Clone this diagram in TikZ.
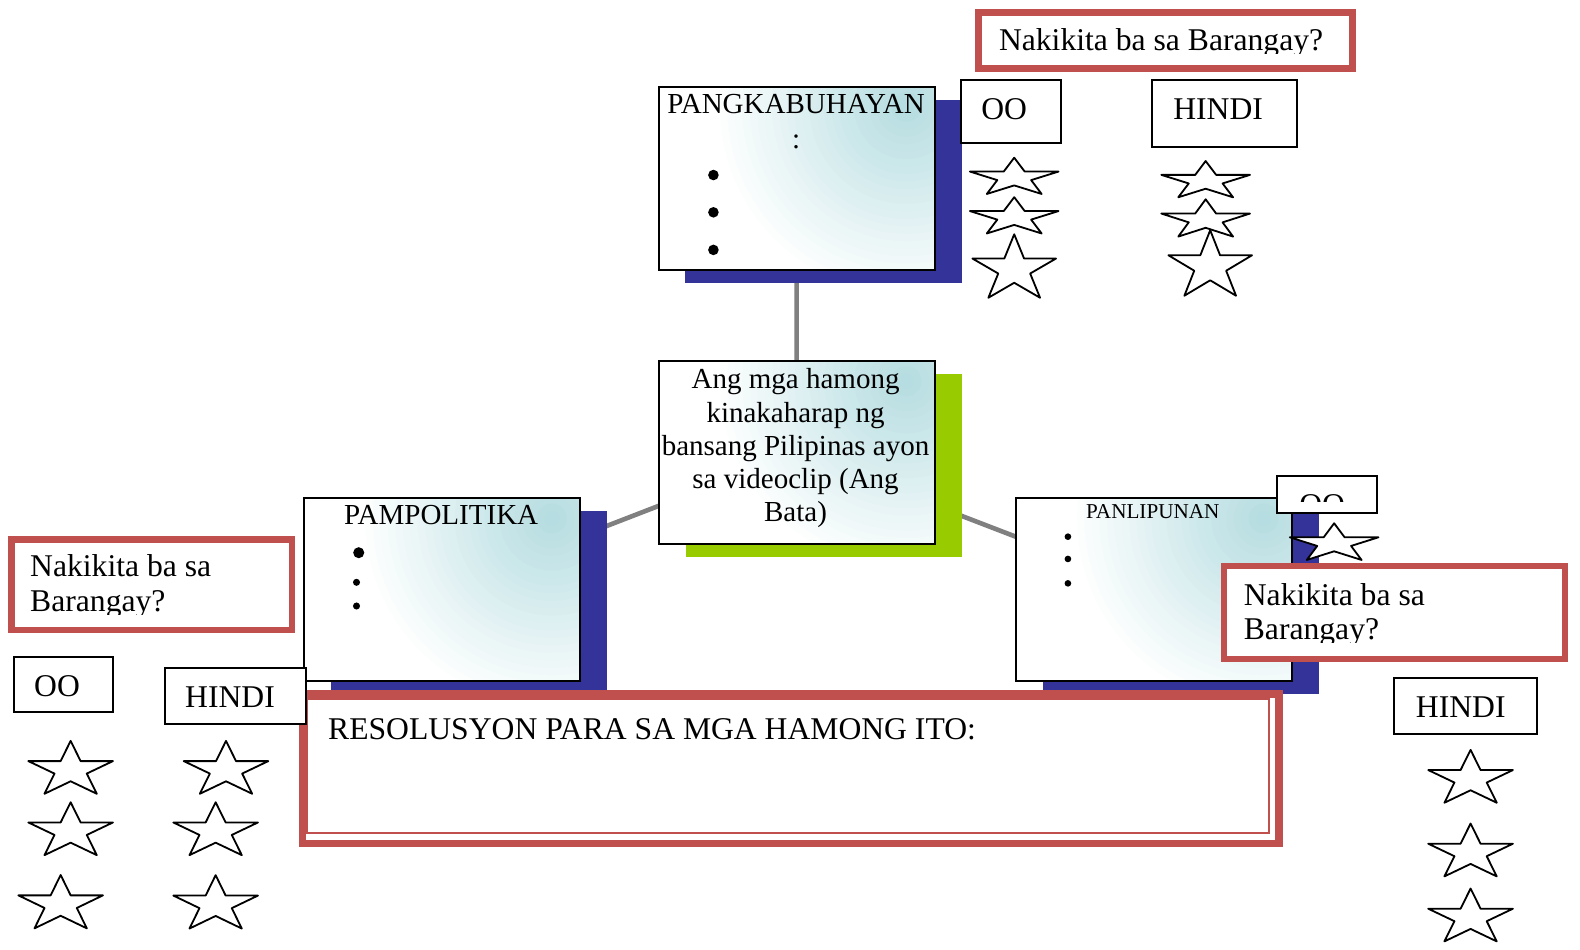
\documentclass[tikz,border=0pt]{standalone}
\usepackage{fontspec}
\setmainfont{Liberation Serif}
\usetikzlibrary{backgrounds}
\definecolor{redc}{RGB}{192,80,77}
\definecolor{bluec}{RGB}{51,51,153}
\definecolor{greenc}{RGB}{153,204,0}
\definecolor{grayc}{RGB}{128,128,128}
\definecolor{tealc}{RGB}{182,221,225}
\newcommand\ostar[4]{%
  \begin{scope}[shift={(#1,#2)},xscale=#3/1.902,yscale=-#4/1.809]
    \draw[starline] (0,0.9045) -- (0.2245,0.2135) -- (0.951,0.2135) -- (0.363,-0.2135)
      -- (0.588,-0.9045) -- (0,-0.4775) -- (-0.588,-0.9045) -- (-0.363,-0.2135)
      -- (-0.951,0.2135) -- (-0.2245,0.2135) -- cycle;
  \end{scope}}
\begin{document}
\begin{tikzpicture}[x=0.5pt,y=-0.5pt,
  plainbox/.style={draw=black,line width=1pt,fill=white,inner sep=0,anchor=north west},
  redbox/.style={draw=redc,line width=3.25pt,fill=white,inner sep=0,anchor=north west},
  shadowbox/.style={inner sep=0,anchor=north west,minimum width=137pt,minimum height=90.75pt},
  contentbox/.style={draw=black,line width=1pt,fill=white,inner sep=0,anchor=north west,
    minimum width=137pt,minimum height=90.75pt,
    path picture={\foreach \i in {1,...,25}{\pgfmathtruncatemacro\pct{4*\i}%
      \fill[tealc!\pct!white] ([xshift=-14pt,yshift=-10pt]path picture bounding box.north east)
        circle ({(26-\i)*3.7pt});}}},
  starline/.style={draw=black,fill=white,line width=0.9pt,line join=round},
  conn/.style={draw=grayc,line width=2.3pt},
  bigtxt/.style={font=\fontsize{15.7pt}{17.5pt}\selectfont,inner sep=0},
  midtxt/.style={font=\fontsize{14.4pt}{16pt}\selectfont,inner sep=0},
  smalltxt/.style={font=\fontsize{10.5pt}{12pt}\selectfont,inner sep=0},
  dot/.style={circle,fill=black,inner sep=0}]
\useasboundingbox (0,0) rectangle (1568,942);

% ---------- top: PANGKABUHAYAN ----------
\node[shadowbox,fill=bluec] (pksh) at (679.8,98.5) {};
\node[contentbox] (pk) at (652.5,85) {};
\node[midtxt,anchor=base] (pkt) at (790,113) {PANGKABUHAYAN};
\node[midtxt,anchor=base] (pkc) at (790,147) {:};
\node[dot,minimum size=5.25pt] (pkb1) at (708,173.7) {};
\node[dot,minimum size=5.25pt] (pkb2) at (708,210.7) {};
\node[dot,minimum size=5.25pt] (pkb3) at (708,248) {};

% ---------- centre ----------
\node[shadowbox,fill=greenc] (ctrsh) at (679.9,370.8) {};
\node[contentbox] (ctr) at (652.6,357.3) {};
\node[midtxt,anchor=base] (c1) at (789.5,386) {Ang mga hamong};
\node[midtxt,anchor=base] (c2) at (789.5,419) {kinakaharap ng};
\node[midtxt,anchor=base] (c3) at (789.5,452) {bansang Pilipinas ayon};
\node[midtxt,anchor=base] (c4) at (789.5,485) {sa videoclip (Ang};
\node[midtxt,anchor=base] (c5) at (789.5,518) {Bata)};

% ---------- left: PAMPOLITIKA ----------
\node[shadowbox,fill=bluec] (polsh) at (327.9,507) {};
\node[contentbox] (pol) at (300.6,493.5) {};
\node[midtxt,anchor=base] (polt) at (437.8,521) {PAMPOLITIKA};
\node[dot,minimum size=5.5pt] (polb1) at (356,548.5) {};
\node[dot,minimum size=3.5pt] (polb2) at (353.8,577.9) {};
\node[dot,minimum size=3.5pt] (polb3) at (353.8,601.4) {};

% ---------- right: PANLIPUNAN ----------
\node[shadowbox,fill=bluec] (libsh) at (1034.3,507.3) {};
\node[contentbox] (lib) at (1007,493.5) {};
\node[smalltxt,anchor=base] (libt) at (1144,514.4) {PANLIPUNAN};
\node[dot,minimum size=3.3pt] (libb1) at (1059.8,532.6) {};
\node[dot,minimum size=3.3pt] (libb2) at (1059.8,554.7) {};
\node[dot,minimum size=3.3pt] (libb3) at (1059.8,578.9) {};

% ---------- connectors ----------
\begin{scope}[on background layer]
  \draw[conn] (pk.center) -- (ctr.center);
  \draw[conn] (pol.center) -- (ctr.center);
  \draw[conn] (lib.center) -- (ctr.center);
\end{scope}

% ---------- top question group ----------
\node[redbox,minimum width=185.5pt,minimum height=28pt] (tq) at (968,9) {};
\begin{scope}
  \clip (965,0) rectangle (1342,52.9);
  \node[bigtxt,anchor=base west] (tqt) at (991,50.3) {Nakikita ba sa Barangay?};
\end{scope}
\node[plainbox,minimum width=49.5pt,minimum height=31.4pt] (too) at (953,78.4) {};
\node[bigtxt,anchor=base west] (toot) at (973.5,118.4) {OO};
\node[plainbox,minimum width=72pt,minimum height=33.1pt] (thi) at (1142,78.4) {};
\node[bigtxt,anchor=base west] (thit) at (1164,118.4) {HINDI};
\ostar{1006.5}{174.5}{88}{36}
\ostar{1006.5}{213.7}{88}{36}
\ostar{1006.5}{264}{83}{63}
\ostar{1196.5}{177.8}{88}{36}
\ostar{1196.5}{216.3}{88}{37}
\ostar{1201}{261}{83}{65}

% ---------- right question group ----------
\node[plainbox,minimum width=49.5pt,minimum height=18.5pt] (roo) at (1266.5,471.4) {};
\begin{scope}
  \clip (1266.5,471.4) rectangle (1365.5,498);
  \node[bigtxt,anchor=base west] (root) at (1289,511.5) {OO};
\end{scope}
\ostar{1324}{537.5}{88}{36.4}
\node[redbox,minimum width=169.25pt,minimum height=46.25pt] (rq) at (1211.25,558.25) {};
\node[bigtxt,anchor=base west] (rqt1) at (1234,600.4) {Nakikita ba sa};
\begin{scope}
  \clip (1214,560) rectangle (1550,637.8);
  \node[bigtxt,anchor=base west] (rqt2) at (1234,635) {Barangay?};
\end{scope}
\node[plainbox,minimum width=70.65pt,minimum height=27.5pt] (rhi) at (1382.7,672.1) {};
\node[bigtxt,anchor=base west] (rhit) at (1404.8,711.8) {HINDI};
\ostar{1459.4}{770.4}{84}{52.5}
\ostar{1459.4}{843.5}{84}{52.5}
\ostar{1459.4}{908}{84}{52.5}

% ---------- resolution box ----------
\node[draw=redc,line width=3.75pt,fill=white,inner sep=0,anchor=north west,
  minimum width=484.5pt,minimum height=74.05pt] (res) at (296.25,685.15) {};
\node[draw=redc,line width=1.1pt,inner sep=0,anchor=north west,
  minimum width=477.15pt,minimum height=66.7pt] (resin) at (303.6,692.5) {};
\node[bigtxt,anchor=base west] (rest) at (325.3,733.7) {RESOLUSYON PARA SA MGA HAMONG ITO:};

% ---------- left question group ----------
\node[redbox,minimum width=139.25pt,minimum height=44.75pt] (lq) at (8.25,532.25) {};
\node[bigtxt,anchor=base west] (lqt1) at (29.6,572.3) {Nakikita ba sa};
\begin{scope}
  \clip (10,534) rectangle (285,609.6);
  \node[bigtxt,anchor=base west] (lqt2) at (29.6,607) {Barangay?};
\end{scope}
\node[plainbox,minimum width=49.3pt,minimum height=27.45pt] (loo) at (12.6,650.7) {};
\node[bigtxt,anchor=base west] (loot) at (33.5,691.4) {OO};
\node[plainbox,minimum width=70.2pt,minimum height=27.45pt] (lhi) at (162.5,662.2) {};
\node[bigtxt,anchor=base west] (lhit) at (183.4,702.3) {HINDI};
\ostar{70.1}{761.5}{84}{52.5}
\ostar{70.1}{822.4}{84}{52.5}
\ostar{60.2}{894.8}{84}{53}
\ostar{224.3}{761.5}{84}{52.5}
\ostar{214}{822.4}{84}{52.5}
\ostar{214}{895}{84}{53}
\end{tikzpicture}
\end{document}
